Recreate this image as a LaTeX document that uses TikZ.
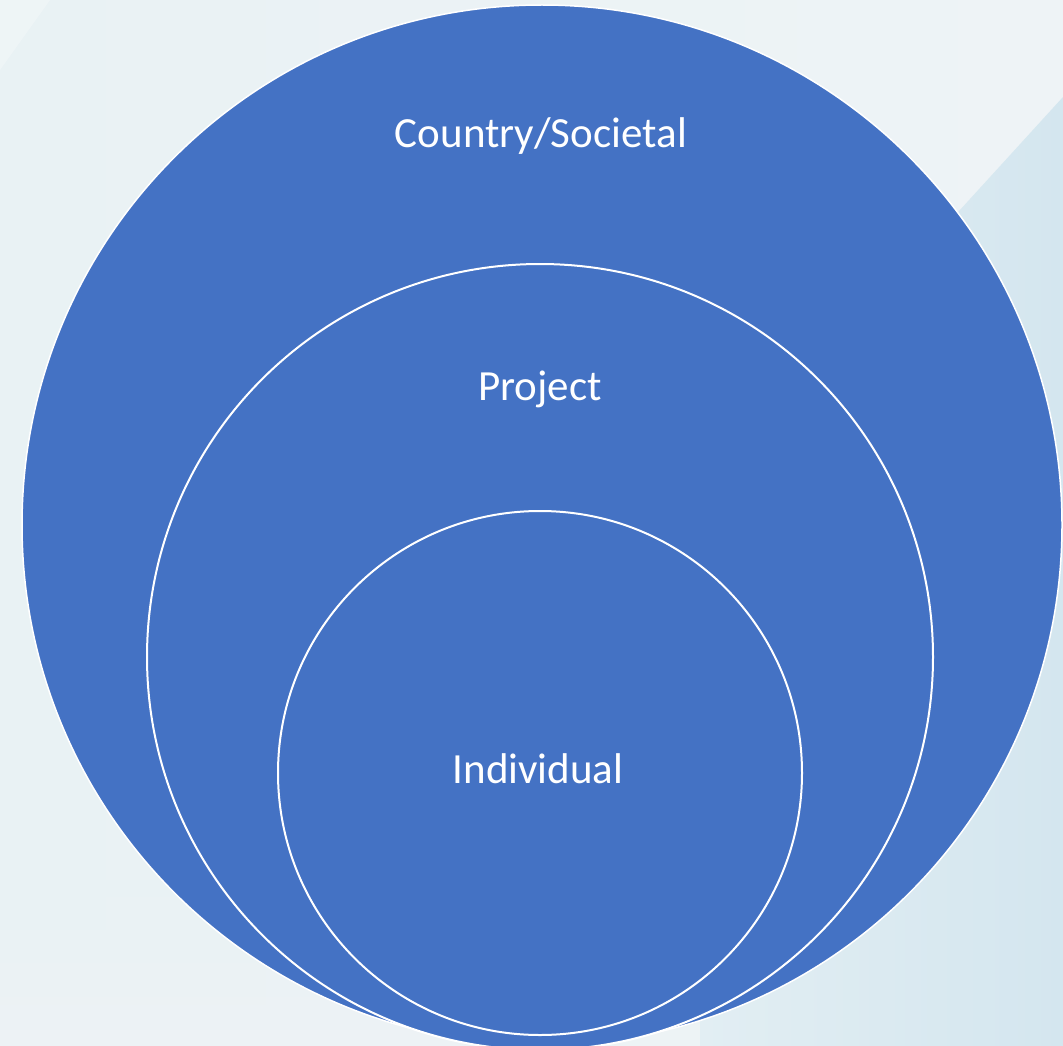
\documentclass[tikz,border=0pt]{standalone}
\usepackage{fontspec}
\setmainfont{Carlito}
\usepackage{xcolor}
\usepackage{tikz}
\usetikzlibrary{shadings}

\definecolor{ringblue}{HTML}{4472C4}
\definecolor{paleback}{HTML}{EEF3F6}
\definecolor{paleleft}{HTML}{E9F2F4}
\definecolor{paleright}{HTML}{D4E6EF}
\definecolor{palemid}{HTML}{E2EEF3}

\tikzset{
  ring/.style={fill=ringblue, draw=white, line width=2pt},
  ringlabel/.style={text=white, anchor=base, font=\fontsize{43}{50}\selectfont}
}

\begin{document}
\begin{tikzpicture}[x=1pt,y=-1pt]
    \useasboundingbox (0,0) rectangle (1063,1046);
    % backdrop
    \shade[left color=paleleft, right color=paleback] (0,0) rectangle (1063,1046);
    \fill[white, opacity=0.25] (0,0) -- (50,0) -- (0,70) -- cycle;
    \shade[top color=paleleft, bottom color=paleback, opacity=0.8]
      (0,880) rectangle (700,1046);
    \shade[left color=palemid, right color=paleright]
      (1063,97) -- (700,495) -- (700,1046) -- (1063,1046) -- cycle;
    % the three levels
    \coordinate (outer) at (542,525);
    \coordinate (middle) at (540,657);
    \coordinate (inner) at (540,773);
    \draw[ring, line width=1.5pt] (outer) circle (520);
    \draw[ring] (middle) circle (393);
    \draw[ring] (inner) circle (262);
    \node[ringlabel] (country) at (541,148) {Country/Societal};
    \node[ringlabel] (project) at (540,400) {Project};
    \node[ringlabel] (individual) at (538,783) {Individual};
  \end{tikzpicture}
\end{document}
